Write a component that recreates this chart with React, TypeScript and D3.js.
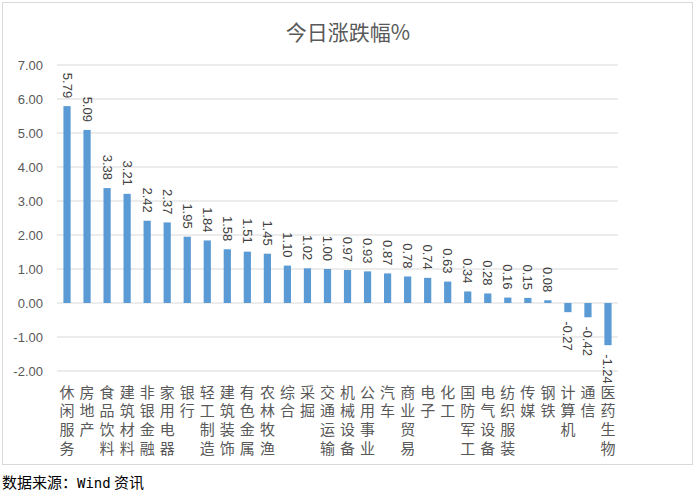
import React from "react";
import * as d3 from "d3";

const categories = ["休闲服务","房地产","食品饮料","建筑材料","非银金融","家用电器","银行","轻工制造","建筑装饰","有色金属","农林牧渔","综合","采掘","交通运输","机械设备","公用事业","汽车","商业贸易","电子","化工","国防军工","电气设备","纺织服装","传媒","钢铁","计算机","通信","医药生物"];
const values = [5.79,5.09,3.38,3.21,2.42,2.37,1.95,1.84,1.58,1.51,1.45,1.10,1.02,1.00,0.97,0.93,0.87,0.78,0.74,0.63,0.34,0.28,0.16,0.15,0.08,-0.27,-0.42,-1.24];
const yTicks = [7,6,5,4,3,2,1,0,-1,-2];
const title = "今日涨跌幅%";
const source = ["数据来源：", "Wind", " 资讯"];

export default function App() {
  const W = 697, H = 501;
  const left = 57, right = 618, top = 65, bottom = 371;
  const x = d3.scaleBand<string>().domain(categories).range([left, right]).paddingInner(0.64).paddingOuter(0.32);
  const y = d3.scaleLinear().domain([-2, 7]).range([bottom, top]);
  const cjk = "'Noto Sans CJK SC', sans-serif";
  return (
    <svg width={W} height={H} style={{ position: "absolute", left: 0, top: 0, background: "#fff" }}>
      <rect x={2.5} y={2.5} width={690} height={462} fill="#fff" stroke="#d9d9d9" />
      <text x={348} y={40} textAnchor="middle" fontSize={21} fill="#595959" fontFamily={cjk}>{title}</text>
      {yTicks.map((t) => (
        <g key={t}>
          <line x1={left} x2={right} y1={y(t)} y2={y(t)} stroke="#d9d9d9" strokeWidth={1} />
          <text x={43} y={y(t)} dy="0.35em" textAnchor="end" fontSize={13} fill="#595959" fontFamily="'Liberation Sans', Arial, sans-serif">{t.toFixed(2)}</text>
        </g>
      ))}
      {categories.map((c, i) => {
        const v = values[i];
        const bx = x(c)!;
        const cx = bx + x.bandwidth() / 2;
        const y0 = y(0), y1 = y(v);
        const ly = v >= 0 ? y1 - 8 : y1 + 9;
        return (
          <g key={c}>
            <rect x={bx} y={Math.min(y0, y1)} width={x.bandwidth()} height={Math.abs(y1 - y0)} fill="#5B9BD5" />
            <text transform={`translate(${cx},${ly}) rotate(90)`} textAnchor={v >= 0 ? "end" : "start"} dominantBaseline="central" fontSize={13} fill="#404040" fontFamily="'Liberation Sans', Arial, sans-serif">{v.toFixed(2)}</text>
            <text x={cx} y={384.5} fontSize={15} fill="#595959" fontFamily={cjk} style={{ writingMode: "vertical-rl", letterSpacing: "3.7px" }}>{c}</text>
          </g>
        );
      })}
      <text x={2} y={488} fontSize={15} fill="#000" fontFamily={cjk}>
        <tspan>{source[0]}</tspan><tspan fontFamily="'DejaVu Sans Mono', monospace" fontSize={14}>{source[1]}</tspan><tspan>{source[2]}</tspan>
      </text>
    </svg>
  );
}
